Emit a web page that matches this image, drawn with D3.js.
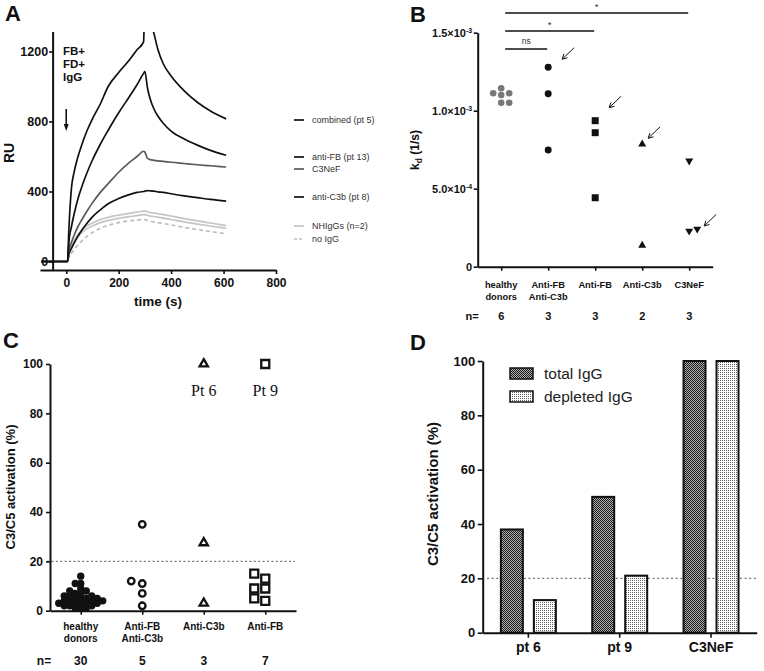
<!DOCTYPE html>
<html>
<head>
<meta charset="utf-8">
<script src="https://d3js.org/d3.v7.min.js"></script>
<style>
  body { margin: 0; background: #fff; }
  svg { display: block; font-family: "Liberation Sans", Arial, sans-serif; }
</style>
</head>
<body>
<script>
// ---------- data ----------
// A: SPR sensorgrams (RU), association then dissociation phase
var assocTime  = [-95, 5, 10, 20, 30, 45, 60, 80, 100, 130, 160, 200, 240, 270, 295];
var dissocTime = [300, 310, 320, 335, 350, 370, 400, 450, 500, 550, 610];
var combinedAssoc = [0, 0, 180, 420, 510, 600, 670, 750, 815, 900, 1000, 1080, 1150, 1210, 1255];
var combinedDiss  = [1500, 1440, 1380, 1300, 1210, 1130, 1060, 975, 910, 860, 815];
var antiFBAssoc   = [0, 0, 110, 200, 270, 360, 430, 510, 580, 670, 750, 850, 940, 1010, 1075];
var antiFBDiss    = [1085, 990, 930, 870, 830, 790, 745, 700, 665, 635, 607];
var c3nefAssoc    = [0, 0, 60, 110, 150, 200, 240, 290, 335, 395, 445, 510, 565, 600, 630];
var c3nefDiss     = [625, 590, 582, 578, 575, 572, 567, 560, 553, 547, 540];
var antiC3bAssoc  = [0, 0, 40, 75, 105, 145, 180, 220, 255, 295, 330, 360, 382, 395, 400];
var antiC3bDiss   = [402, 405, 404, 402, 398, 395, 387, 375, 365, 355, 345];
var nhigg1Assoc   = [0, 0, 50, 90, 120, 155, 180, 205, 220, 240, 253, 265, 275, 282, 288];
var nhigg1Diss    = [288, 283, 280, 277, 273, 268, 260, 245, 232, 220, 205];
var nhigg2Assoc   = [0, 0, 45, 82, 110, 142, 165, 188, 203, 222, 235, 247, 256, 262, 268];
var nhigg2Diss    = [268, 263, 260, 257, 253, 248, 240, 226, 214, 203, 190];
var noIgGAssoc    = [0, 0, 25, 48, 68, 95, 118, 145, 165, 190, 207, 222, 232, 237, 240];
var noIgGDiss     = [240, 234, 230, 226, 222, 217, 209, 195, 183, 171, 158];
var legendA = ["combined (pt 5)", "anti-FB (pt 13)", "C3NeF", "anti-C3b (pt 8)", "NHIgGs (n=2)", "no IgG"];

// B: dissociation rate kd (1/s)
var kdCats = ["healthy donors", "Anti-FB Anti-C3b", "Anti-FB", "Anti-C3b", "C3NeF"];
var kdHealthy = [1.144e-3, 1.112e-3, 1.112e-3, 1.101e-3, 1.051e-3, 1.051e-3];
var kdFBC3b   = [1.279e-3, 1.109e-3, 0.748e-3];
var kdFB      = [0.936e-3, 0.859e-3, 0.442e-3];
var kdC3b     = [0.785e-3, 0.137e-3];
var kdC3NeF   = [0.678e-3, 0.242e-3, 0.229e-3];
var kdN = [6, 3, 3, 2, 3];
var kdArrowTargets = [[1, 1.279e-3], [2, 0.936e-3], [3, 0.785e-3], [4, 0.242e-3]];
var kdSig = [[1, "ns"], [2, "*"], [4, "*"]];

// C: C3/C5 activation (%)
var actCats = ["healthy donors", "Anti-FB Anti-C3b", "Anti-C3b", "Anti-FB"];
var actHealthy = [14, 11, 11, 9, 8, 8, 7, 7, 6, 6, 6, 5, 5, 5, 5, 4, 4, 4, 4, 3, 3, 3, 3, 3, 2, 2, 2, 1, 1, 1];
var actFBC3b = [35, 12, 11, 7, 2];
var actC3b   = [100, 27.5, 3];
var actFB    = [100, 15, 13, 9, 9, 5, 4];
var actN = [30, 5, 3, 7];
var actPtLabels = [[2, 100, "Pt 6"], [3, 100, "Pt 9"]];

// D: total vs depleted IgG
var depCats = ["pt 6", "pt 9", "C3NeF"];
var depSeries = ["total IgG", "depleted IgG"];
var totalIgG = [38, 50, 100];
var depletedIgG = [12, 21, 100];

// ---------- helpers ----------
var svg = d3.select("body").append("svg").attr("width", 764).attr("height", 671);
var defs = svg.append("defs");

function styleAxis(g, size) {
  g.attr("font-family", null).attr("font-size", size).attr("font-weight", "bold");
  g.selectAll("path.domain").attr("stroke-width", 2).attr("stroke", "#111");
  g.selectAll(".tick line").attr("stroke-width", 1.6).attr("stroke", "#111");
  g.selectAll(".tick text").attr("fill", "#111");
}

// simple beeswarm: spread points sideways when they would overlap
function swarm(values, yScale, cx, step, minDist, dir) {
  var placed = [];
  values.slice().sort(function (a, b) { return a - b; }).forEach(function (v) {
    var y = yScale(v);
    for (var k = 0; k < 60; k++) {
      var off = k === 0 ? 0 : dir * (k % 2 ? 1 : -1) * Math.ceil(k / 2) * step;
      var ok = placed.every(function (q) { return Math.hypot(q.x - (cx + off), q.y - y) >= minDist; });
      if (ok) { placed.push({ x: cx + off, y: y, v: v }); break; }
    }
  });
  return placed;
}

function catLabels(g, cats, xs, y0, size, lh) {
  cats.forEach(function (c, i) {
    var lines = c.split(" ");
    if (c === "Anti-C3b" || c === "Anti-FB" || c === "C3NeF") lines = [c];
    var t = g.append("text").attr("text-anchor", "middle").attr("font-size", size)
      .attr("font-weight", "bold").attr("fill", "#111");
    lines.forEach(function (l, j) {
      t.append("tspan").attr("x", xs(c)).attr("y", y0 + j * lh).text(l);
    });
  });
}

svg.selectAll("text.panel").data([["A", 5, 21], ["B", 410, 22], ["C", 3, 348], ["D", 410, 350]])
  .enter().append("text").attr("class", "panel")
  .attr("x", function (d) { return d[1]; }).attr("y", function (d) { return d[2]; })
  .attr("font-size", 22).attr("font-weight", "bold").attr("fill", "#111")
  .text(function (d) { return d[0]; });

// ---------- panel A ----------
var gA = svg.append("g");
var xA = d3.scaleLinear().domain([-100, 800]).range([40, 276]);
var yA = d3.scaleLinear().domain([0, 1200]).range([261.5, 51.5]);
var axTopA = 32, axBotA = 270;

defs.append("clipPath").attr("id", "clipA").append("rect")
  .attr("x", 30).attr("y", axTopA).attr("width", 260).attr("height", axBotA - axTopA);

function curve(a, d) {
  return assocTime.map(function (t, i) { return [t, a[i]]; })
    .concat(dissocTime.map(function (t, i) { return [t, d[i]]; }));
}
var curvesA = [
  { pts: curve(noIgGAssoc, noIgGDiss), color: "#bdbdbd", dash: "4,3" },
  { pts: curve(nhigg2Assoc, nhigg2Diss), color: "#c4c4c4" },
  { pts: curve(nhigg1Assoc, nhigg1Diss), color: "#c4c4c4" },
  { pts: curve(antiC3bAssoc, antiC3bDiss), color: "#111" },
  { pts: curve(c3nefAssoc, c3nefDiss), color: "#5a5a5a" },
  { pts: curve(antiFBAssoc, antiFBDiss), color: "#111" },
  { pts: curve(combinedAssoc, combinedDiss), color: "#111" }
];
var lineA = d3.line().x(function (d) { return xA(d[0]); }).y(function (d) { return yA(d[1]); })
  .curve(d3.curveMonotoneX);
gA.append("g").attr("clip-path", "url(#clipA)").selectAll("path").data(curvesA).enter().append("path")
  .attr("d", function (d) { return lineA(d.pts); })
  .attr("fill", "none").attr("stroke", function (d) { return d.color; })
  .attr("stroke-width", 1.7).attr("stroke-dasharray", function (d) { return d.dash || null; });

gA.append("line").attr("x1", xA(-50)).attr("x2", xA(-50)).attr("y1", axTopA).attr("y2", axBotA)
  .attr("stroke", "#111").attr("stroke-width", 2);
var yAxA = gA.append("g").attr("transform", "translate(" + xA(-50) + ",0)")
  .call(d3.axisLeft(yA).tickValues([0, 400, 800, 1200]).tickFormat(d3.format("d")).tickSize(4).tickPadding(1));
yAxA.select(".domain").remove();
styleAxis(yAxA, 12.5);
var xAxA = gA.append("g").attr("transform", "translate(0," + axBotA + ")")
  .call(d3.axisBottom(xA).tickValues([0, 200, 400, 600, 800]).tickSize(4).tickSizeOuter(0).tickPadding(4.5));
styleAxis(xAxA, 12);

gA.append("text").attr("transform", "translate(14,153) rotate(-90)").attr("text-anchor", "middle")
  .attr("font-size", 14).attr("font-weight", "bold").attr("fill", "#111").text("RU");
gA.append("text").attr("x", 158).attr("y", 306).attr("text-anchor", "middle")
  .attr("font-size", 13.5).attr("font-weight", "bold").attr("fill", "#111").text("time (s)");
["FB+", "FD+", "IgG"].forEach(function (s, i) {
  gA.append("text").attr("x", 63).attr("y", 55 + i * 13).attr("font-size", 11.5)
    .attr("font-weight", "bold").attr("fill", "#111").text(s);
});
// injection arrow at t = 0
gA.append("line").attr("x1", xA(0)).attr("x2", xA(0)).attr("y1", 109).attr("y2", 126)
  .attr("stroke", "#111").attr("stroke-width", 1.6);
gA.append("path").attr("d", "M" + (xA(0) - 2.5) + ",124 L" + (xA(0) + 2.5) + ",124 L" + xA(0) + ",131 Z")
  .attr("fill", "#111");

var legStyle = [
  { color: "#111" }, { color: "#111" }, { color: "#5a5a5a" }, { color: "#111" },
  { color: "#c4c4c4" }, { color: "#bdbdbd", dash: "3,2" }
];
var legY = [120, 157, 169, 197, 226, 239];
legendA.forEach(function (name, i) {
  gA.append("line").attr("x1", 294).attr("x2", 304).attr("y1", legY[i]).attr("y2", legY[i])
    .attr("stroke", legStyle[i].color).attr("stroke-width", 1.7)
    .attr("stroke-dasharray", legStyle[i].dash || null);
  gA.append("text").attr("x", 312).attr("y", legY[i] + 3).attr("font-size", 9)
    .attr("fill", "#333").text(name);
});

// ---------- panel B ----------
var gB = svg.append("g");
var xB = d3.scalePoint().domain(kdCats).range([477.7, 712.7]).padding(0.5);
var yB = d3.scaleLinear().domain([0, 1.5e-3]).range([266.7, 32.7]);

var yAxB = gB.append("g").attr("transform", "translate(477.7,0)")
  .call(d3.axisLeft(yB).tickValues([0, 5e-4, 1e-3, 1.5e-3]).tickSize(4).tickSizeOuter(0).tickPadding(1.5));
styleAxis(yAxB, 11);
yAxB.selectAll(".tick text").each(function (v) {
  var t = d3.select(this).text(null);
  if (v === 0) { t.text("0"); return; }
  var e = Math.floor(Math.log10(v) + 1e-9), m = v / Math.pow(10, e);
  t.append("tspan").text(m.toFixed(1) + "\u00d710");
  t.append("tspan").attr("dy", -4).attr("font-size", 7).text("-" + Math.abs(e));
});
var xAxB = gB.append("g").attr("transform", "translate(0,266.7)")
  .call(d3.axisBottom(xB).tickSize(4).tickSizeOuter(0).tickFormat(""));
styleAxis(xAxB, 9);
catLabels(gB, kdCats, xB, 288, 9.3, 11.5);
gB.append("text").attr("x", 472).attr("y", 320).attr("text-anchor", "middle")
  .attr("font-size", 11).attr("font-weight", "bold").attr("fill", "#111").text("n=");
kdN.forEach(function (n, i) {
  gB.append("text").attr("x", xB(kdCats[i])).attr("y", 320).attr("text-anchor", "middle")
    .attr("font-size", 11).attr("font-weight", "bold").attr("fill", "#111").text(n);
});
var kdLab = gB.append("text").attr("transform", "translate(419,150) rotate(-90)").attr("text-anchor", "middle")
  .attr("font-size", 12).attr("font-weight", "bold").attr("fill", "#111");
kdLab.append("tspan").text("k");
kdLab.append("tspan").attr("dy", 3).attr("font-size", 8.5).text("d");
kdLab.append("tspan").attr("dy", -3).text(" (1/s)");

var kdGroups = [
  { vals: kdHealthy, sym: d3.symbolCircle, size: 34, fill: "#777" },
  { vals: kdFBC3b, sym: d3.symbolCircle, size: 38, fill: "#111" },
  { vals: kdFB, sym: d3.symbolSquare, size: 49, fill: "#111" },
  { vals: kdC3b, sym: d3.symbolTriangle, size: 28, fill: "#111" },
  { vals: kdC3NeF, sym: d3.symbolTriangle, size: 28, fill: "#111", rot: 180 }
];
var kdPlaced = [];
kdGroups.forEach(function (grp, i) {
  var pts = swarm(grp.vals, yB, xB(kdCats[i]), 8, 6.6, 1);
  kdPlaced.push(pts);
  gB.append("g").selectAll("path").data(pts).enter().append("path")
    .attr("d", d3.symbol().type(grp.sym).size(grp.size))
    .attr("transform", function (d) { return "translate(" + d.x + "," + d.y + ")" + (grp.rot ? " rotate(180)" : ""); })
    .attr("fill", grp.fill);
});

// arrows pointing at the patients shown in panel A
var arrowOff = [[14, -8], [14, -13], [6, -6], [7, -3]];
kdArrowTargets.forEach(function (a, i) {
  var p = kdPlaced[a[0]].filter(function (d) { return Math.abs(d.v - a[1]) < 1e-9; })[0];
  var tx = p.x + arrowOff[i][0], ty = p.y + arrowOff[i][1];
  var dx = 12, dy = -11.5, ang = Math.atan2(dy, dx), hl = 5.5;
  var path = "M" + (tx + dx) + "," + (ty + dy) + "L" + tx + "," + ty +
    "M" + (tx + hl * Math.cos(ang + 0.5)) + "," + (ty + hl * Math.sin(ang + 0.5)) + "L" + tx + "," + ty +
    "L" + (tx + hl * Math.cos(ang - 0.5)) + "," + (ty + hl * Math.sin(ang - 0.5));
  gB.append("path").attr("d", path).attr("fill", "none").attr("stroke", "#111").attr("stroke-width", 1);
});

// significance bars
kdSig.forEach(function (s, i) {
  var y = 49 - 18 * i, x1 = xB(kdCats[0]) + 4, x2 = xB(kdCats[s[0]]) - 1;
  gB.append("line").attr("x1", x1).attr("x2", x2).attr("y1", y).attr("y2", y)
    .attr("stroke", "#111").attr("stroke-width", 1.5);
  gB.append("text").attr("x", (x1 + x2) / 2).attr("y", s[1] === "ns" ? y - 5 : y - 3)
    .attr("text-anchor", "middle").attr("font-size", s[1] === "ns" ? 8.5 : 9.5).attr("fill", "#333").text(s[1]);
});

// ---------- panel C ----------
var gC = svg.append("g");
var xC = d3.scalePoint().domain(actCats).range([50, 296]).padding(0.5);
var yC = d3.scaleLinear().domain([0, 100]).range([610.7, 364]);

gC.append("line").attr("x1", 47).attr("x2", 295).attr("y1", yC(20)).attr("y2", yC(20))
  .attr("stroke", "#777").attr("stroke-width", 1.3).attr("stroke-dasharray", "2,2.4");
var yAxC = gC.append("g").attr("transform", "translate(50,0)")
  .call(d3.axisLeft(yC).tickValues([0, 20, 40, 60, 80, 100]).tickSize(4).tickSizeOuter(0).tickPadding(3));
styleAxis(yAxC, 12);
var xAxC = gC.append("g").attr("transform", "translate(0,610.7)")
  .call(d3.axisBottom(xC).tickSize(4).tickSizeOuter(0).tickFormat(""));
styleAxis(xAxC, 10);
catLabels(gC, actCats, xC, 630, 10, 11.5);
gC.append("text").attr("x", 44).attr("y", 665).attr("text-anchor", "middle")
  .attr("font-size", 12).attr("font-weight", "bold").attr("fill", "#111").text("n=");
actN.forEach(function (n, i) {
  gC.append("text").attr("x", xC(actCats[i])).attr("y", 665).attr("text-anchor", "middle")
    .attr("font-size", 12).attr("font-weight", "bold").attr("fill", "#111").text(n);
});
gC.append("text").attr("transform", "translate(15,487) rotate(-90)").attr("text-anchor", "middle")
  .attr("font-size", 13).attr("font-weight", "bold").attr("fill", "#111").text("C3/C5 activation (%)");

var actGroups = [
  { vals: actHealthy, sym: d3.symbolCircle, size: 43, fill: "#111", step: 5.5, min: 4.2 },
  { vals: actFBC3b, sym: d3.symbolCircle, size: 34, open: true, step: 11, min: 9 },
  { vals: actC3b, sym: d3.symbolTriangle, size: 30, open: true, step: 11, min: 9 },
  { vals: actFB, sym: d3.symbolSquare, size: 64, open: true, step: 11, min: 9 }
];
actGroups.forEach(function (grp, i) {
  var pts = swarm(grp.vals, yC, xC(actCats[i]), grp.step, grp.min, -1);
  gC.append("g").selectAll("path").data(pts).enter().append("path")
    .attr("d", d3.symbol().type(grp.sym).size(grp.size))
    .attr("transform", function (d) { return "translate(" + d.x + "," + d.y + ")"; })
    .attr("fill", grp.open ? "#fff" : grp.fill)
    .attr("stroke", grp.open ? "#111" : "none").attr("stroke-width", 2.3);
});
actPtLabels.forEach(function (p) {
  gC.append("text").attr("x", xC(actCats[p[0]])).attr("y", yC(p[1]) + 32).attr("text-anchor", "middle")
    .attr("font-family", "'Liberation Serif', 'Times New Roman', serif").attr("font-size", 16)
    .attr("fill", "#111").text(p[2]);
});

// ---------- panel D ----------
var gD = svg.append("g");
var x0 = d3.scaleBand().domain(depCats).range([482.7, 756.7]);
var x1 = d3.scaleBand().domain(depSeries).range([-27.5, 27.5]).paddingInner(1 / 3);
var yD = d3.scaleLinear().domain([0, 100]).range([632.7, 361]);

var pChk = defs.append("pattern").attr("id", "chk").attr("width", 2).attr("height", 2)
  .attr("patternUnits", "userSpaceOnUse");
pChk.append("rect").attr("width", 2).attr("height", 2).attr("fill", "#b0b0b0");
pChk.append("rect").attr("width", 1).attr("height", 1).attr("fill", "#1a1a1a");
pChk.append("rect").attr("x", 1).attr("y", 1).attr("width", 1).attr("height", 1).attr("fill", "#1a1a1a");
var pDot = defs.append("pattern").attr("id", "dot").attr("width", 2).attr("height", 2)
  .attr("patternUnits", "userSpaceOnUse");
pDot.append("rect").attr("width", 2).attr("height", 2).attr("fill", "#fff");
pDot.append("rect").attr("width", 1).attr("height", 1).attr("fill", "#666");
var fills = { "total IgG": "url(#chk)", "depleted IgG": "url(#dot)" };

gD.append("line").attr("x1", 487).attr("x2", 757).attr("y1", yD(20)).attr("y2", yD(20))
  .attr("stroke", "#777").attr("stroke-width", 1.3).attr("stroke-dasharray", "2,2.6");

var barData = [];
depCats.forEach(function (c, i) {
  barData.push({ cat: c, s: "total IgG", v: totalIgG[i] });
  barData.push({ cat: c, s: "depleted IgG", v: depletedIgG[i] });
});
gD.append("g").selectAll("rect").data(barData).enter().append("rect")
  .attr("x", function (d) { return x0(d.cat) + x0.bandwidth() / 2 + x1(d.s); })
  .attr("y", function (d) { return yD(d.v); })
  .attr("width", x1.bandwidth())
  .attr("height", function (d) { return yD(0) - yD(d.v); })
  .attr("fill", function (d) { return fills[d.s]; })
  .attr("stroke", "#111").attr("stroke-width", 2);

var yAxD = gD.append("g").attr("transform", "translate(482.7,0)")
  .call(d3.axisLeft(yD).tickValues([0, 20, 40, 60, 80, 100]).tickSize(5).tickSizeOuter(0).tickPadding(2.5));
styleAxis(yAxD, 13);
var xAxD = gD.append("g").attr("transform", "translate(0,632.7)")
  .call(d3.axisBottom(x0).tickSize(5).tickSizeOuter(0).tickPadding(4));
styleAxis(xAxD, 14);
gD.append("text").attr("transform", "translate(438,494) rotate(-90)").attr("text-anchor", "middle")
  .attr("font-size", 15).attr("font-weight", "bold").attr("fill", "#111").text("C3/C5 activation (%)");

depSeries.forEach(function (s, i) {
  var y = 368 + i * 23;
  gD.append("rect").attr("x", 510).attr("y", y).attr("width", 23).attr("height", 11)
    .attr("fill", fills[s]).attr("stroke", "#111").attr("stroke-width", 1.5);
  gD.append("text").attr("x", 544).attr("y", y + 11).attr("font-size", 15.5)
    .attr("fill", "#222").text(s);
});
</script>
</body>
</html>
